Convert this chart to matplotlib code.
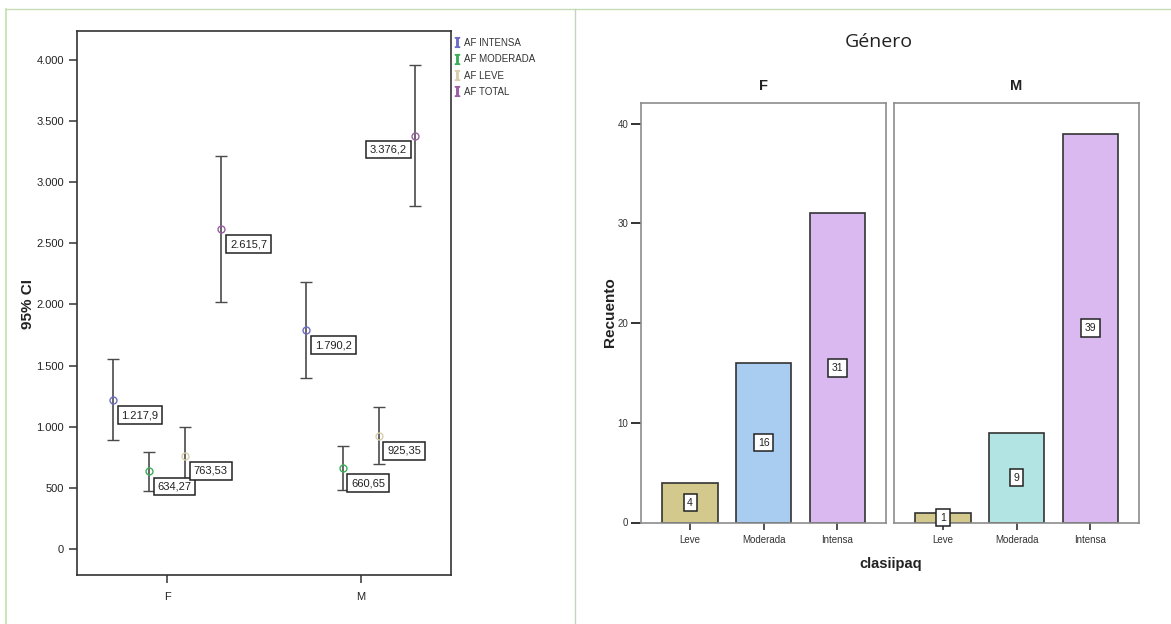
import matplotlib
matplotlib.use("Agg")
import matplotlib.pyplot as plt
from matplotlib.lines import Line2D
from matplotlib.ticker import FuncFormatter

plt.rcParams['font.family'] = ['Liberation Sans', 'DejaVu Sans']
plt.rcParams['mathtext.fontset'] = 'stix'

# --- left: 95% CI of physical activity by sex ---
groups = ['F', 'M']
series = ['AF INTENSA', 'AF MODERADA', 'AF LEVE', 'AF TOTAL']
series_colors = ['#6d6dc4', '#3dae5c', '#d9cfae', '#9a5ea2']
means_F = [1217.9, 634.27, 763.53, 2615.7]
means_M = [1790.2, 660.65, 925.35, 3376.2]
lower_F = [891, 478, 532, 2016]
upper_F = [1551, 797, 995, 3216]
lower_M = [1398, 481, 696, 2806]
upper_M = [2179, 846, 1161, 3958]

# --- right: counts of clasiipaq by sex ---
categories = ['Leve', 'Moderada', 'Intensa']
counts_F = [4, 16, 31]
counts_M = [1, 9, 39]
colors_F = ['#d3c98c', '#a9cdf0', '#dab8f0']
colors_M = ['#d3c98c', '#b2e4e3', '#dab8f0']

W, H = 1171, 624
fig = plt.figure(figsize=(W / 100, H / 100), dpi=100)
fig.patch.set_facecolor('white')


def px_axes(left, top, right, bottom):
    return fig.add_axes([left / W, 1 - bottom / H, (right - left) / W, (bottom - top) / H])


def es_num(v):
    s = f"{v:,.1f}" if v >= 1000 else f"{v:,.2f}"
    return s.replace(',', '#').replace('.', ',').replace('#', '.')


# page frame lines
fig.add_artist(Line2D([6.3 / W, 6.3 / W], [0, 1 - 9.3 / H], transform=fig.transFigure,
                      color='#c0e2a8', lw=1.2))
fig.add_artist(Line2D([6.3 / W, 1], [1 - 9.3 / H, 1 - 9.3 / H], transform=fig.transFigure,
                      color='#c6dcb6', lw=1.0))
fig.add_artist(Line2D([575.3 / W, 575.3 / W], [0, 1 - 9.3 / H], transform=fig.transFigure,
                      color='#c5d3bf', lw=1.0))

ax = px_axes(77, 30.6, 451.3, 575)
step = 0.187
offsets = [-1.5 * step, -0.5 * step, 0.5 * step, 1.5 * step]
means = [means_F, means_M]
lows = [lower_F, lower_M]
ups = [upper_F, upper_M]
label_box = dict(boxstyle='square,pad=0.35', fc='white', ec='#222222', lw=1.1)
for g in range(len(groups)):
    for s in range(len(series)):
        x = g + offsets[s]
        m = means[g][s]
        eb = ax.errorbar([x], [m], yerr=[[m - lows[g][s]], [ups[g][s] - m]], fmt='o',
                         mfc='none', mec=series_colors[s], mew=1.0, ms=5,
                         ecolor='#4a4a4a', elinewidth=1.2, capsize=4, capthick=1.4, zorder=3)
        for cap in eb[1]:
            cap.set_color('#1a1a1a')
        if g == 1 and s == 3:
            ax.annotate(es_num(m), (x, m), xytext=(-8, -8.5), textcoords='offset pixels',
                        ha='right', va='top', fontsize=8, color='#222222',
                        bbox=label_box, zorder=4)
        else:
            ax.annotate(es_num(m), (x, m), xytext=(8.5, -10), textcoords='offset pixels',
                        ha='left', va='top', fontsize=8, color='#222222',
                        bbox=label_box, zorder=4)

ax.set_xlim(-0.466, 1.468)
ax.set_ylim(-212, 4238)
ax.set_xticks(range(len(groups)))
ax.set_xticklabels(groups)
ax.set_yticks(range(0, 4001, 500))
ax.yaxis.set_major_formatter(FuncFormatter(lambda v, p: f"{int(v):,}".replace(',', '.')))
ax.tick_params(axis='both', length=6, width=1.1, color='#333333', labelsize=8,
               labelcolor='#222222')
ax.tick_params(axis='x', pad=6)
for sp in ax.spines.values():
    sp.set_color('#333333')
    sp.set_linewidth(1.2)
fig.text(27.7 / W, 1 - 304 / H, '95% CI', rotation=90, ha='center', va='center',
         fontsize=11, fontweight='bold', color='#222222')

handles = [Line2D([], [], ls='none', marker=r'$\mathrm{I}$', color=c, ms=7) for c in series_colors]
ax.legend(handles, series, loc='upper left', bbox_to_anchor=(450 / W, 1 - 34 / H),
          bbox_transform=fig.transFigure, frameon=False, fontsize=7, handlelength=0.6,
          handletextpad=0.45, labelspacing=0.65, borderaxespad=0, labelcolor='#333333')

# --- right panels ---
panel_px = [(640.7, 886.1), (893.6, 1139.0)]
counts = [counts_F, counts_M]
colors = [colors_F, colors_M]
for g in range(len(groups)):
    bx = px_axes(panel_px[g][0], 102.7, panel_px[g][1], 522.5)
    xs = range(len(categories))
    bx.bar(xs, counts[g], width=0.75, color=colors[g], edgecolor='#333333', lw=1.2, zorder=2)
    for i, c in enumerate(counts[g]):
        bx.annotate(str(c), (i, c / 2), ha='center', va='center', fontsize=7.5,
                    color='#222222',
                    bbox=dict(boxstyle='square,pad=0.35', fc='white', ec='#222222', lw=1.1),
                    zorder=4)
    bx.set_xlim(-0.67, 2.66)
    bx.set_ylim(0, 42.1)
    bx.set_xticks(list(xs))
    bx.set_xticklabels(categories)
    bx.tick_params(axis='x', length=5, width=1.2, color='#333333', labelsize=7,
                   labelcolor='#333333', pad=4)
    if g == 0:
        bx.set_yticks([0, 10, 20, 30, 40])
        bx.tick_params(axis='y', length=7, width=1.4, color='#333333', labelsize=7,
                       labelcolor='#333333', pad=2)
    else:
        bx.set_yticks([])
    for sp in bx.spines.values():
        sp.set_color('#8c8c8c')
        sp.set_linewidth(1.2)
    bx.set_title(groups[g], fontsize=10.5, fontweight='bold', color='#222222', pad=9)

fig.text(878.9 / W, 1 - 41.8 / H, 'Género', ha='center', va='center', fontsize=14,
         family=['Open Sans', 'DejaVu Sans'], color='#222222')
fig.text(610.2 / W, 1 - 312 / H, 'Recuento', rotation=90, ha='center', va='center',
         fontsize=11, fontweight='bold', color='#222222')
fig.text(890.2 / W, 1 - 564.3 / H, 'clasiipaq', ha='center', va='center',
         fontsize=10.5, fontweight='bold', color='#222222')

fig.savefig('out.png', dpi=100, facecolor='white')
